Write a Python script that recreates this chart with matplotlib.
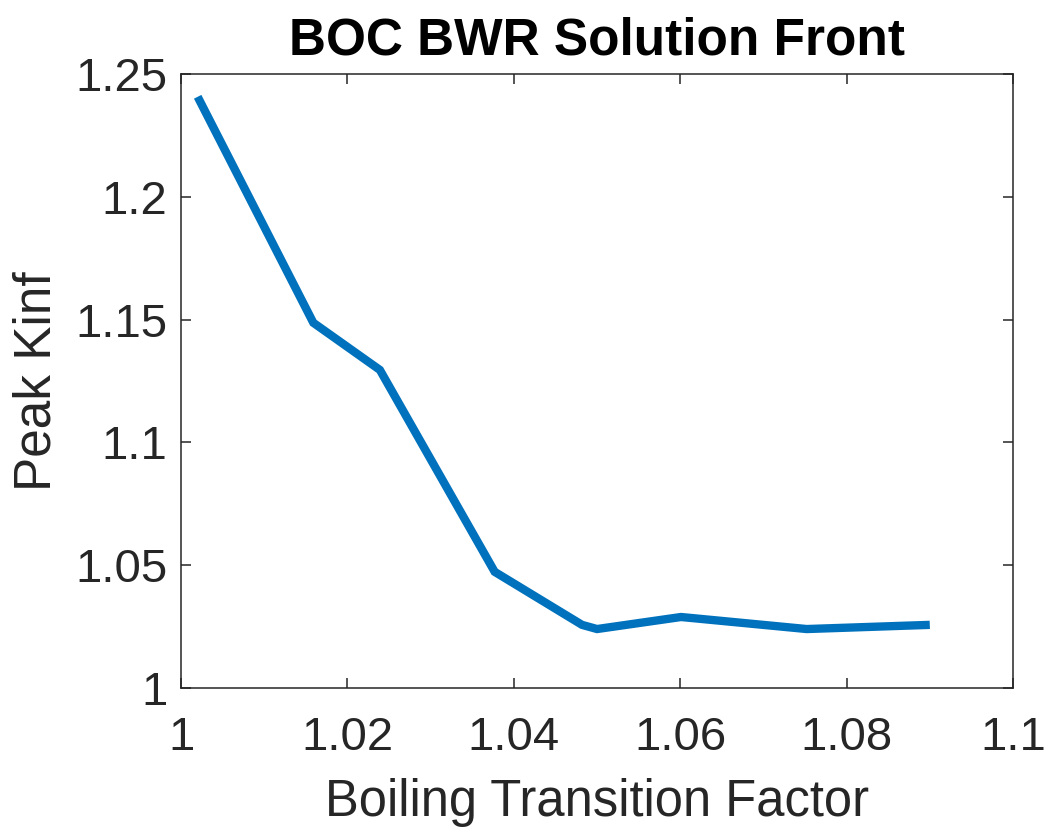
import numpy as np
import matplotlib
matplotlib.use("Agg")
import matplotlib.pyplot as plt
from matplotlib.ticker import FormatStrFormatter

# Pareto front: boiling transition factor vs peak kinf
btf = [1.0020, 1.0159, 1.0239, 1.0377, 1.0482, 1.0500, 1.0601, 1.0752, 1.0900]
peak_kinf = [1.2407, 1.1487, 1.1295, 1.0473, 1.0257, 1.0240, 1.0289, 1.0240, 1.0257]

x_ticks = [1.0, 1.02, 1.04, 1.06, 1.08, 1.1]
y_ticks = [1.0, 1.05, 1.1, 1.15, 1.2, 1.25]

plt.rcParams['font.family'] = ['Liberation Sans', 'DejaVu Sans']
axis_color = '#262626'

fig = plt.figure(figsize=(10.44, 8.30), dpi=100)
ax = fig.add_axes([0.1734, 0.1711, 0.7969, 0.7398])

ax.plot(btf, peak_kinf, color='#0072BD', linewidth=6.0,
        solid_joinstyle='miter', solid_capstyle='butt')

ax.set_xlim(1.0, 1.1)
ax.set_ylim(1.0, 1.25)
ax.set_xticks(x_ticks)
ax.set_yticks(y_ticks)
ax.xaxis.set_major_formatter(FormatStrFormatter('%g'))
ax.yaxis.set_major_formatter(FormatStrFormatter('%g'))

ax.tick_params(direction='in', length=7, width=1.1, colors=axis_color,
               labelsize=34, top=True, right=True)
ax.tick_params(axis='x', pad=20)
ax.tick_params(axis='y', pad=10)
for spine in ax.spines.values():
    spine.set_color(axis_color)
    spine.set_linewidth(1.1)

ax.set_xlabel('Boiling Transition Factor', fontsize=36.5, color=axis_color, labelpad=13)
ax.set_ylabel('Peak Kinf', fontsize=37, color=axis_color, labelpad=10)
ax.set_title('BOC BWR Solution Front', fontsize=37, fontweight='bold', color='black', pad=14)

fig.savefig('out.png', dpi=100, facecolor='white')
